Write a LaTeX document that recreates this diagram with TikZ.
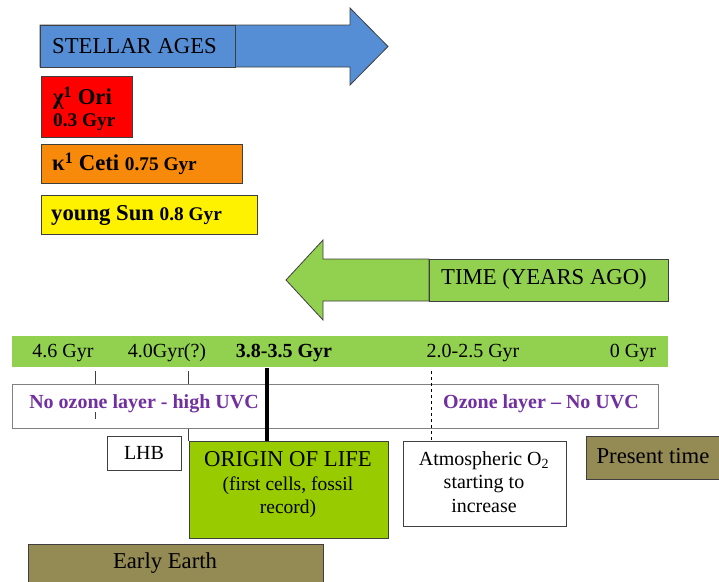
\documentclass[tikz,border=0pt]{standalone}
\usepackage{fontspec}
\setmainfont{Liberation Serif}
\definecolor{arrowblue}{HTML}{558ED5}
\definecolor{arrowgreen}{HTML}{92D050}
\definecolor{oriorange}{HTML}{F78A0A}
\definecolor{lifegreen}{HTML}{99CC00}
\definecolor{olive}{HTML}{948A54}
\definecolor{uvpurple}{HTML}{7030A0}
\definecolor{edgegray}{HTML}{3F3F3F}
\newcommand{\bigfont}{\fontsize{22.7}{26}\selectfont}
\newcommand{\smallbold}{\fontsize{19.3}{22}\selectfont\bfseries}
\newcommand{\midfont}{\fontsize{20}{23.5}\selectfont}
\begin{document}
\begin{tikzpicture}[x=1pt,y=-1pt,
  box/.style={draw=edgegray,line width=0.8pt,anchor=north west,inner sep=0pt},
  lbl/.style={inner sep=0pt,font=#1},
  lbl/.default=\midfont,
  tick/.style={draw=edgegray,line width=0.8pt},
  bigarrow/.style={draw=edgegray,line width=0.8pt}]
\useasboundingbox (0,0) rectangle (719,581);
% stellar ages arrow
\draw[bigarrow,fill=arrowblue] (40,25) -- (350,25) -- (350,8) -- (388,46.5) -- (350,85) -- (350,67) -- (40,67) -- cycle;
\node[box,fill=arrowblue,minimum width=195pt,minimum height=42pt] (sa) at (40,25) {};
\node[lbl=\bigfont,anchor=west] (satext) at (52,46) {STELLAR AGES};
% star boxes
\node[box,fill=red,minimum width=91pt,minimum height=61pt] (ori) at (41,76) {};
\node[lbl=\bigfont\bfseries,anchor=west] (oritext) at (53,98) {χ\textsuperscript{1} Ori};
\node[lbl=\smallbold,anchor=west] (oriage) at (53,122) {0.3 Gyr};
\node[box,fill=oriorange,minimum width=201pt,minimum height=39pt] (ceti) at (41,144) {};
\node[lbl=\bigfont\bfseries,anchor=west] (cetitext) at (52,164) {κ\textsuperscript{1} Ceti \smallbold 0.75 Gyr};
\node[box,fill=yellow,minimum width=216pt,minimum height=39pt] (sun) at (41,195) {};
\node[lbl=\bigfont\bfseries,anchor=west] (suntext) at (51,215) {young Sun \smallbold 0.8 Gyr};
% time arrow
\draw[bigarrow,fill=arrowgreen] (429,259) -- (323,259) -- (323,240) -- (286,280) -- (323,320) -- (323,301) -- (429,301) -- cycle;
\node[box,fill=arrowgreen,minimum width=239pt,minimum height=42pt] (time) at (429,259) {};
\node[lbl=\bigfont] (timetext) at (544,279) {TIME (YEARS AGO)};
% timeline band
\node[anchor=north west,inner sep=0pt,fill=arrowgreen,minimum width=656pt,minimum height=31pt] (tl) at (12,336) {};
\node[lbl] (t46) at (63,353) {4.6 Gyr};
\node[lbl] (t40) at (167,353) {4.0Gyr(?)};
\node[lbl=\midfont\bfseries] (t38) at (284,353) {3.8-3.5 Gyr};
\node[lbl] (t20) at (473,353) {2.0-2.5 Gyr};
\node[lbl] (t0) at (633,353) {0 Gyr};
% ozone band
\node[box,draw=gray,fill=white,minimum width=646pt,minimum height=44pt] (oz) at (12,384) {};
\node[lbl=\midfont\bfseries,text=uvpurple] (noz) at (144,404) {No ozone layer - high UVC};
\node[lbl=\midfont\bfseries,text=uvpurple] (yoz) at (541,404) {Ozone layer -- No UVC};
% boxes below
\node[box,fill=white,minimum width=74pt,minimum height=34pt] (lhb) at (107,436) {};
\node[lbl] (lhbtext) at (144,453) {LHB};
\node[box,fill=lifegreen,minimum width=199pt,minimum height=97pt] (origin) at (189,441) {};
\node[lbl=\bigfont] (or1) at (288,459) {ORIGIN OF LIFE};
\node[lbl=\fontsize{19.5}{23.5}\selectfont,align=center] (or2) at (288,497) {(first cells, fossil\\record)};
\node[box,fill=white,minimum width=163pt,minimum height=85pt] (atm) at (403,441) {};
\node[lbl=\midfont,align=center] (atmtext) at (484,482) {Atmospheric O\textsubscript{2}\\starting to\\increase};
\node[box,fill=olive,minimum width=140pt,minimum height=43pt] (present) at (586,436) {};
\node[lbl=\bigfont] (prtext) at (653,456) {Present time};
\node[box,fill=olive,minimum width=295pt,minimum height=45pt] (early) at (28,544) {};
\node[lbl=\bigfont] (eatext) at (165,563) {Early Earth};
% ticks
\coordinate (x95) at (95,0);
\coordinate (x188) at (188,0);
\coordinate (x267) at (267,0);
\coordinate (x431) at (431,0);
\draw[tick] ([yshift=-4pt]tl.south -| x95) -- (oz.north -| x95);
\draw[tick] ([yshift=-35pt]oz.north -| x95) -- ([yshift=17pt]oz.south -| x95);
\draw[tick] ([yshift=-4pt]tl.south -| x188) -- (oz.north -| x188);
\draw[tick] (oz.south -| x188) -- (origin.north -| x188);
\draw[tick,dashed,draw=black] ([yshift=-4pt]tl.south -| x431) -- (atm.north -| x431);
\draw[line width=4.5pt] ([yshift=-1pt]tl.south -| x267) -- (origin.north -| x267);
\end{tikzpicture}
\end{document}
